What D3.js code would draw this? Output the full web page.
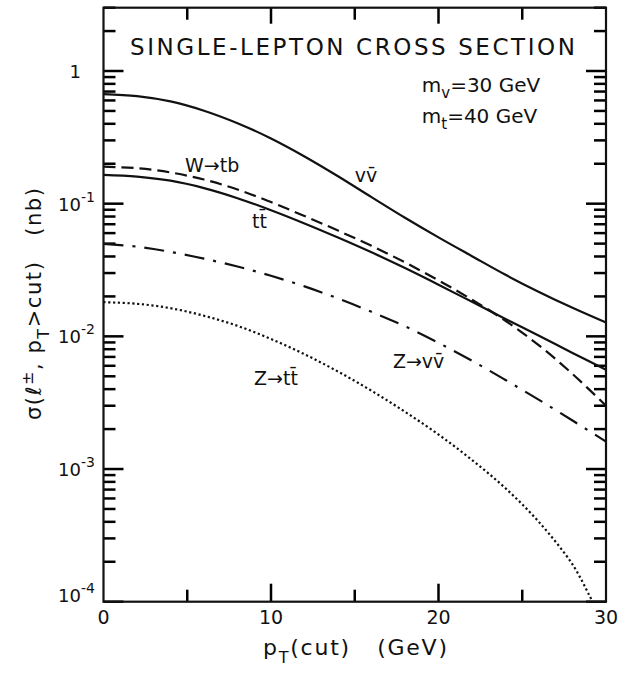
<!DOCTYPE html>
<html>
<head>
<meta charset="utf-8">
<script src="https://cdn.jsdelivr.net/npm/d3@7/dist/d3.min.js"></script>
<style>
  body { margin: 0; background: #fff; }
  svg { display: block; }
  text { font-family: "DejaVu Sans", sans-serif; fill: #111; }
</style>
</head>
<body>
<script>
var width = 635;
var height = 673;

// p_T(cut) grid, GeV
var ptCut = [0, 2, 4, 6, 8, 10, 12, 14, 16, 18, 20, 22, 24, 26, 28, 30];
// cross sections in nb
var sigmaNuNuBar = [0.670, 0.647, 0.590, 0.502, 0.404, 0.310, 0.227, 0.161, 0.112, 0.0783, 0.0557, 0.0402, 0.0291, 0.0216, 0.0164, 0.0127];
var sigmaWtb     = [0.190, 0.185, 0.172, 0.152, 0.128, 0.1028, 0.0807, 0.0627, 0.0481, 0.0361, 0.0264, 0.0189, 0.0131, 0.00855, 0.00521, 0.0030];
var sigmaTTbar   = [0.165, 0.160, 0.149, 0.131, 0.110, 0.0893, 0.0710, 0.0556, 0.0430, 0.0327, 0.0245, 0.0182, 0.0135, 0.0101, 0.0075, 0.0056];
var sigmaZnunu   = [0.0497, 0.0474, 0.0433, 0.0385, 0.0336, 0.0286, 0.0238, 0.0193, 0.0153, 0.0119, 0.00893, 0.00655, 0.00469, 0.00332, 0.00232, 0.00161];
var ptCutZtt     = [0, 2, 4, 6, 8, 10, 12, 14, 16, 18, 20, 22, 24, 26, 28, 29, 29.2];
var sigmaZtt     = [0.0181, 0.0176, 0.0163, 0.0143, 0.0120, 0.00955, 0.00733, 0.00543, 0.00389, 0.00270, 0.00182, 0.00117, 0.000716, 0.000398, 0.000191, 0.000112, 0.0001];

var xTicks = [0, 10, 20, 30];
var xMinorTicks = [5, 15, 25];
var yTicks = [1e-4, 1e-3, 1e-2, 1e-1, 1];
var yTickExp = ['-4', '-3', '-2', '-1', ''];

var svg = d3.select('body')
    .append('svg')
    .attr('width', width)
    .attr('height', height);

var x = d3.scaleLinear().domain([0, 30]).range([103.5, 606]);
var y = d3.scaleLog().domain([1e-4, 3]).range([601.7, 7.7]);

var yMinor = [];
yTicks.forEach(function (d) {
    for (var k = 2; k <= 9; k++) {
        if (d * k <= 3) yMinor.push(d * k);
    }
});

// inward ticks on all four sides: [x1, y1, x2, y2]
var tickSegs = [];
[10, 20].forEach(function (d) {
    tickSegs.push([x(d), y(1e-4), x(d), y(1e-4) - 18]);
    tickSegs.push([x(d), y(3), x(d), y(3) + 16]);
});
xMinorTicks.forEach(function (d) {
    tickSegs.push([x(d), y(1e-4), x(d), y(1e-4) - 12]);
    tickSegs.push([x(d), y(3), x(d), y(3) + 12]);
});
yTicks.forEach(function (d) {
    tickSegs.push([x(0), y(d), x(0) + 20, y(d)]);
    tickSegs.push([x(30), y(d), x(30) - 20, y(d)]);
});
yMinor.forEach(function (d) {
    tickSegs.push([x(0), y(d), x(0) + 12, y(d)]);
    tickSegs.push([x(30), y(d), x(30) - 12, y(d)]);
});

svg.selectAll('.tk')
    .data(tickSegs)
    .enter()
    .append('path')
    .attr('class', 'tk')
    .attr('d', function (s) { return 'M' + s[0] + ',' + s[1] + 'L' + s[2] + ',' + s[3]; })
    .attr('fill', 'none')
    .attr('stroke', 'black')
    .attr('stroke-width', 2.5);

// frame
svg.append('rect')
    .attr('x', x(0)).attr('y', y(3))
    .attr('width', x(30) - x(0)).attr('height', y(1e-4) - y(3))
    .attr('fill', 'none').attr('stroke', '#111').attr('stroke-width', 2.2);

// curves
var line = d3.line()
    .x(function (d) { return x(d[0]); })
    .y(function (d) { return y(d[1]); })
    .curve(d3.curveCatmullRom.alpha(0.5));

var curves = [
    { xs: ptCut, ys: sigmaNuNuBar, dash: null },
    { xs: ptCut, ys: sigmaTTbar, dash: null },
    { xs: ptCut, ys: sigmaWtb, dash: '12,6' },
    { xs: ptCut, ys: sigmaZnunu, dash: '20,9,3,9' },
    { xs: ptCutZtt, ys: sigmaZtt, dash: '2.2,2.6' }
];

svg.selectAll('.curve')
    .data(curves)
    .enter()
    .append('path')
    .attr('class', 'curve')
    .attr('d', function (c) { return line(d3.zip(c.xs, c.ys)); })
    .attr('fill', 'none')
    .attr('stroke', '#111')
    .attr('stroke-width', 2.2)
    .attr('stroke-dasharray', function (c) { return c.dash; });

// tick labels
svg.selectAll('.xlab')
    .data(xTicks)
    .enter()
    .append('text')
    .attr('x', function (d) { return x(d); })
    .attr('y', 624)
    .attr('text-anchor', 'middle')
    .style('font-size', '19px')
    .text(function (d) { return d; });

yTicks.forEach(function (d, i) {
    var base = y(d) + (i === 0 ? 0 : 7);
    svg.append('text')
        .attr('x', 81).attr('y', base)
        .attr('text-anchor', 'end')
        .style('font-size', '18px')
        .text(d === 1 ? '1' : '10');
    if (yTickExp[i]) {
        svg.append('text')
            .attr('x', 81).attr('y', base - 9)
            .style('font-size', '14px')
            .text(yTickExp[i]);
    }
});

// title and annotations
svg.append('text')
    .attr('x', x(1.58)).attr('y', y(1.32))
    .attr('textLength', 445).attr('lengthAdjust', 'spacing')
    .style('font-size', '23px')
    .text('SINGLE-LEPTON CROSS SECTION');

function massLabel(sub, rest, yv) {
    var t = svg.append('text')
        .attr('x', x(19.0)).attr('y', y(yv))
        .style('font-size', '20px');
    t.append('tspan').text('m');
    t.append('tspan').attr('dy', 6).style('font-size', '15px').text(sub);
    t.append('tspan').attr('dy', -6).text(rest);
}
massLabel('v', '=30 GeV', 0.695);
massLabel('t', '=40 GeV', 0.406);

var notes = [
    { text: 'v\u0076\u0304', px: 15.0, py: 0.146 },
    { text: 'W\u2192tb', px: 4.87, py: 0.173 },
    { text: 't\u0074\u0304', px: 8.87, py: 0.0656 },
    { text: 'Z\u2192v\u0076\u0304', px: 17.28, py: 0.00578 },
    { text: 'Z\u2192t\u0074\u0304', px: 8.99, py: 0.0043 }
];

svg.selectAll('.note')
    .data(notes)
    .enter()
    .append('text')
    .attr('x', function (d) { return x(d.px); })
    .attr('y', function (d) { return y(d.py); })
    .style('font-size', '19px')
    .text(function (d) { return d.text; });

// axis titles
var xt = svg.append('text')
    .attr('x', 263).attr('y', 655)
    .attr('textLength', 184).attr('lengthAdjust', 'spacing')
    .style('font-size', '22px');
xt.append('tspan').text('p');
xt.append('tspan').attr('dy', 8).style('font-size', '16px').text('T');
xt.append('tspan').attr('dy', -8).attr('xml:space', 'preserve').text('(cut)   (GeV)');

var yt = svg.append('text')
    .attr('transform', 'translate(41,420) rotate(-90)')
    .attr('textLength', 232).attr('lengthAdjust', 'spacing')
    .style('font-size', '21px');
yt.append('tspan').text('\u03c3(\u2113');
yt.append('tspan').attr('dy', -8).style('font-size', '16px').text('\u00b1');
yt.append('tspan').attr('dy', 8).text(', p');
yt.append('tspan').attr('dy', 8).style('font-size', '16px').text('T');
yt.append('tspan').attr('dy', -8).attr('xml:space', 'preserve').text('>cut)   (nb)');
</script>
</body>
</html>
